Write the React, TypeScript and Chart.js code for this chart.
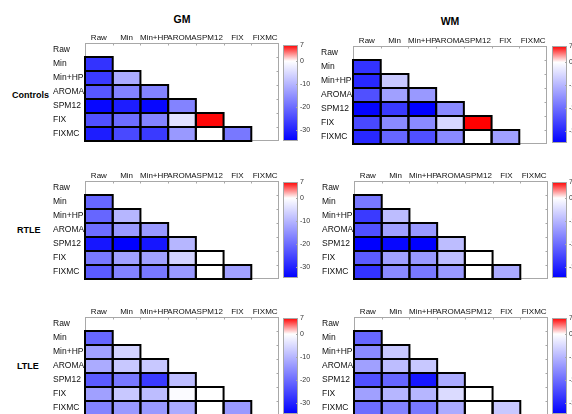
import React, { useEffect, useRef } from "react";
import { Chart, registerables } from "chart.js";
Chart.register(...registerables);

const methods = ["Raw", "Min", "Min+HP", "AROMA", "SPM12", "FIX", "FIXMC"];
const colorTicks = [7, 0, -10, -20, -30];
const colorMin = -35;
const colorMax = 7;

// lower-triangular t-values: row i (Min..FIXMC) holds columns Raw..(i-1)
const gmControls = [
  [-28],
  [-27, -11.5],
  [-23, -17, -17],
  [-34, -31, -34, -17],
  [-24, -20, -17, -4, 6.8],
  [-31, -25, -27, -14, 0, -18.5],
];
const wmControls = [
  [-28],
  [-29.5, -7.5],
  [-24, -13, -14],
  [-34.5, -27, -35, -16],
  [-25, -16, -16, -5.5, 7],
  [-29.5, -21, -24, -16, 0, -13],
];
const gmRTLE = [
  [-21],
  [-21, -10],
  [-20, -14, -14],
  [-32, -35, -32, -10],
  [-18.5, -13, -13, -6, 0],
  [-22.5, -17, -18.5, -14, 0, -13],
];
const wmRTLE = [
  [-18.5],
  [-27, -9],
  [-24, -13, -14],
  [-35, -34, -35, -9],
  [-22.5, -13, -14, -9, 0],
  [-28, -16, -18.5, -14, 0, -11.5],
];
const gmLTLE = [
  [-21],
  [-13, -6],
  [-11.5, -7.5, -7.5],
  [-22.5, -18.5, -27, -9],
  [-13, -7.5, -9, -0.5, 0],
  [-17, -14, -14, -11.5, 0, -14],
];
const wmLTLE = [
  [-21],
  [-16, -7.5],
  [-13, -9, -7.5],
  [-24, -21, -32, -11.5],
  [-13, -10, -10, -5, 0],
  [-20, -17, -18.5, -11.5, 0, -7.5],
];

const FONT = "'Liberation Sans', Arial, sans-serif";

function valueColor(v: number): string {
  if (v >= 0) {
    const t = Math.min(1, v / colorMax);
    const c = Math.round(255 * (1 - t));
    return `rgb(255,${c},${c})`;
  }
  const t = Math.min(1, v / colorMin);
  const c = Math.round(255 * (1 - t));
  return `rgb(${c},${c},255)`;
}

const BOX_W = 194;
const BOX_H = 98;
const Y_AXIS_W = 32;
const X_AXIS_H = 13;
const PAD_L = 3;
const PAD_R = 3;
const PAD_B = 8;

const boxPlugin = {
  id: "boxPlugin",
  beforeDatasetsDraw(chart: any) {
    const ctx = chart.ctx;
    const a = chart.chartArea;
    ctx.save();
    ctx.strokeStyle = "#a8a8a8";
    ctx.lineWidth = 1;
    ctx.strokeRect(Math.round(a.left) + 0.5, Math.round(a.top) + 0.5, Math.round(a.width) - 1, Math.round(a.height) - 1);
    const n = methods.length;
    ctx.beginPath();
    for (let i = 1; i < n; i++) {
      const x = Math.round(a.left + (a.width * i) / n) + 0.5;
      ctx.moveTo(x, a.top);
      ctx.lineTo(x, a.top + 2.5);
      const y = Math.round(a.top + (a.height * i) / n) + 0.5;
      ctx.moveTo(a.right - 2.5, y);
      ctx.lineTo(a.right, y);
    }
    ctx.stroke();
    ctx.restore();
  },
  afterDatasetsDraw(chart: any) {
    const ctx = chart.ctx;
    ctx.save();
    ctx.strokeStyle = "#000";
    ctx.lineWidth = 2;
    chart.data.datasets.forEach((ds: any, di: number) => {
      const meta = chart.getDatasetMeta(di);
      meta.data.forEach((bar: any, i: number) => {
        if (ds.data[i] == null) return;
        const p = bar.getProps(["x", "y", "base", "width"], true);
        if (!isFinite(p.x) || !isFinite(p.y)) return;
        ctx.strokeRect(p.x - p.width / 2, Math.min(p.y, p.base), p.width, Math.abs(p.base - p.y));
      });
    });
    ctx.restore();
  },
};

function Heatmap({ values, boxLeft, boxTop }: { values: number[][]; boxLeft: number; boxTop: number }) {
  const ref = useRef<HTMLCanvasElement>(null);
  const width = PAD_L + Y_AXIS_W + BOX_W + PAD_R;
  const height = X_AXIS_H + BOX_H + PAD_B;
  useEffect(() => {
    const datasets = methods.map((rowName, r) => ({
      label: rowName,
      data: methods.map((_, c) => (r >= 1 && c < r ? [r, r + 1] : null)),
      backgroundColor: methods.map((_, c) => (r >= 1 && c < r ? valueColor(values[r - 1][c]) : "rgba(0,0,0,0)")),
      borderWidth: 0,
      grouped: false,
      barPercentage: 1,
      categoryPercentage: 1,
    }));
    const chart = new Chart(ref.current as HTMLCanvasElement, {
      type: "bar",
      data: { labels: methods, datasets: datasets as any },
      options: {
        animation: false,
        responsive: false,
        devicePixelRatio: 1,
        layout: { padding: { left: PAD_L, right: PAD_R, top: 0, bottom: PAD_B } },
        plugins: { legend: { display: false }, tooltip: { enabled: false } },
        scales: {
          x: {
            type: "category",
            position: "top",
            offset: true,
            grid: { display: false, drawTicks: false, tickLength: 0 },
            border: { display: false },
            ticks: {
              autoSkip: false,
              minRotation: 0,
              maxRotation: 0,
              padding: 0,
              color: "#111",
              font: { family: FONT, size: 8 },
            },
            afterFit: (s: any) => {
              s.height = X_AXIS_H;
            },
          },
          y: {
            type: "linear",
            min: 0,
            max: methods.length,
            reverse: true,
            grid: { display: false, drawTicks: false, tickLength: 0 },
            border: { display: false },
            afterBuildTicks: (s: any) => {
              s.ticks = methods.map((_, i) => ({ value: i + 0.5 }));
            },
            ticks: {
              autoSkip: false,
              crossAlign: "far",
              padding: 0,
              color: "#111",
              font: { family: FONT, size: 8.5 },
              callback: (_v: any, i: number) => methods[i],
            },
            afterFit: (s: any) => {
              s.width = Y_AXIS_W;
            },
          },
        },
      } as any,
      plugins: [boxPlugin],
    });
    return () => chart.destroy();
  }, [values]);
  return (
    <canvas
      ref={ref}
      width={width}
      height={height}
      style={{ position: "absolute", left: boxLeft - PAD_L - Y_AXIS_W, top: boxTop - X_AXIS_H, width, height, display: "block" }}
    />
  );
}

const CB_W = 15;
const CB_AXIS_W = 18;
const CB_PAD = 8;

const cbPlugin = {
  id: "cbPlugin",
  afterDatasetsDraw(chart: any) {
    const ctx = chart.ctx;
    const a = chart.chartArea;
    const ys = chart.scales.y;
    ctx.save();
    ctx.strokeStyle = "#a8a8a8";
    ctx.lineWidth = 1;
    ctx.strokeRect(Math.round(a.left) + 0.5, Math.round(a.top) + 0.5, Math.round(a.width) - 1, Math.round(a.height) - 1);
    ctx.beginPath();
    colorTicks.forEach((v) => {
      const y = Math.round(ys.getPixelForValue(v)) + 0.5;
      ctx.moveTo(a.right - 2, y);
      ctx.lineTo(a.right, y);
    });
    ctx.stroke();
    ctx.restore();
  },
};

function ColorBar({ left, top, height }: { left: number; top: number; height: number }) {
  const ref = useRef<HTMLCanvasElement>(null);
  const width = CB_W + CB_AXIS_W;
  const cHeight = height + 2 * CB_PAD;
  useEffect(() => {
    const chart = new Chart(ref.current as HTMLCanvasElement, {
      type: "bar",
      data: {
        labels: ["scale"],
        datasets: [
          {
            data: [[colorMin, colorMax]] as any,
            borderWidth: 0,
            barPercentage: 1,
            categoryPercentage: 1,
            backgroundColor: (c: any) => {
              const ch = c.chart;
              const ys = ch.scales && ch.scales.y;
              if (!ch.chartArea || !ys) return "#fff";
              const g = ch.ctx.createLinearGradient(0, ys.getPixelForValue(colorMax), 0, ys.getPixelForValue(colorMin));
              g.addColorStop(0, "rgb(255,0,0)");
              g.addColorStop(colorMax / (colorMax - colorMin), "rgb(255,255,255)");
              g.addColorStop(1, "rgb(0,0,255)");
              return g;
            },
          },
        ],
      },
      options: {
        animation: false,
        responsive: false,
        devicePixelRatio: 1,
        layout: { padding: { left: 0, right: 0, top: CB_PAD, bottom: CB_PAD } },
        plugins: { legend: { display: false }, tooltip: { enabled: false } },
        scales: {
          x: { display: false, offset: true },
          y: {
            position: "right",
            min: colorMin,
            max: colorMax,
            grid: { display: false, drawTicks: false, tickLength: 0 },
            border: { display: false },
            afterBuildTicks: (s: any) => {
              s.ticks = colorTicks.map((v) => ({ value: v }));
            },
            ticks: {
              padding: 2,
              color: "#333",
              font: { family: FONT, size: 7 },
              callback: (v: any) => String(v),
            },
            afterFit: (s: any) => {
              s.width = CB_AXIS_W;
            },
          },
        },
      } as any,
      plugins: [cbPlugin],
    });
    return () => chart.destroy();
  }, []);
  return (
    <canvas
      ref={ref}
      width={width}
      height={cHeight}
      style={{ position: "absolute", left, top: top - CB_PAD, width, height: cHeight, display: "block" }}
    />
  );
}

const titleStyle: React.CSSProperties = {
  position: "absolute",
  fontFamily: FONT,
  fontWeight: "bold",
  fontSize: 10.5,
  lineHeight: "12px",
  color: "#000",
  transform: "translate(-50%, -50%)",
  whiteSpace: "nowrap",
};
const groupStyle: React.CSSProperties = {
  position: "absolute",
  fontFamily: FONT,
  fontWeight: "bold",
  fontSize: 9,
  lineHeight: "11px",
  color: "#000",
  transform: "translateY(-50%)",
  whiteSpace: "nowrap",
};

export default function App() {
  return (
    <div
      style={{
        position: "fixed",
        left: 0,
        top: 0,
        width: 572,
        height: 414,
        overflow: "hidden",
        background: "#fff",
      }}
    >
      <div style={{ ...titleStyle, left: 182, top: 19 }}>GM</div>
      <div style={{ ...titleStyle, left: 450, top: 21 }}>WM</div>
      <div style={{ ...groupStyle, left: 12, top: 95 }}>Controls</div>
      <div style={{ ...groupStyle, left: 17, top: 230 }}>RTLE</div>
      <div style={{ ...groupStyle, left: 17, top: 366 }}>LTLE</div>

      <Heatmap values={gmControls} boxLeft={85} boxTop={43} />
      <ColorBar left={283} top={45} height={96} />
      <Heatmap values={wmControls} boxLeft={353} boxTop={46} />
      <ColorBar left={552} top={46} height={97} />

      <Heatmap values={gmRTLE} boxLeft={85} boxTop={181} />
      <ColorBar left={283} top={182} height={96} />
      <Heatmap values={wmRTLE} boxLeft={354} boxTop={181} />
      <ColorBar left={552} top={182} height={96} />

      <Heatmap values={gmLTLE} boxLeft={85} boxTop={317} />
      <ColorBar left={283} top={318} height={96} />
      <Heatmap values={wmLTLE} boxLeft={354} boxTop={317} />
      <ColorBar left={552} top={318} height={96} />
    </div>
  );
}
